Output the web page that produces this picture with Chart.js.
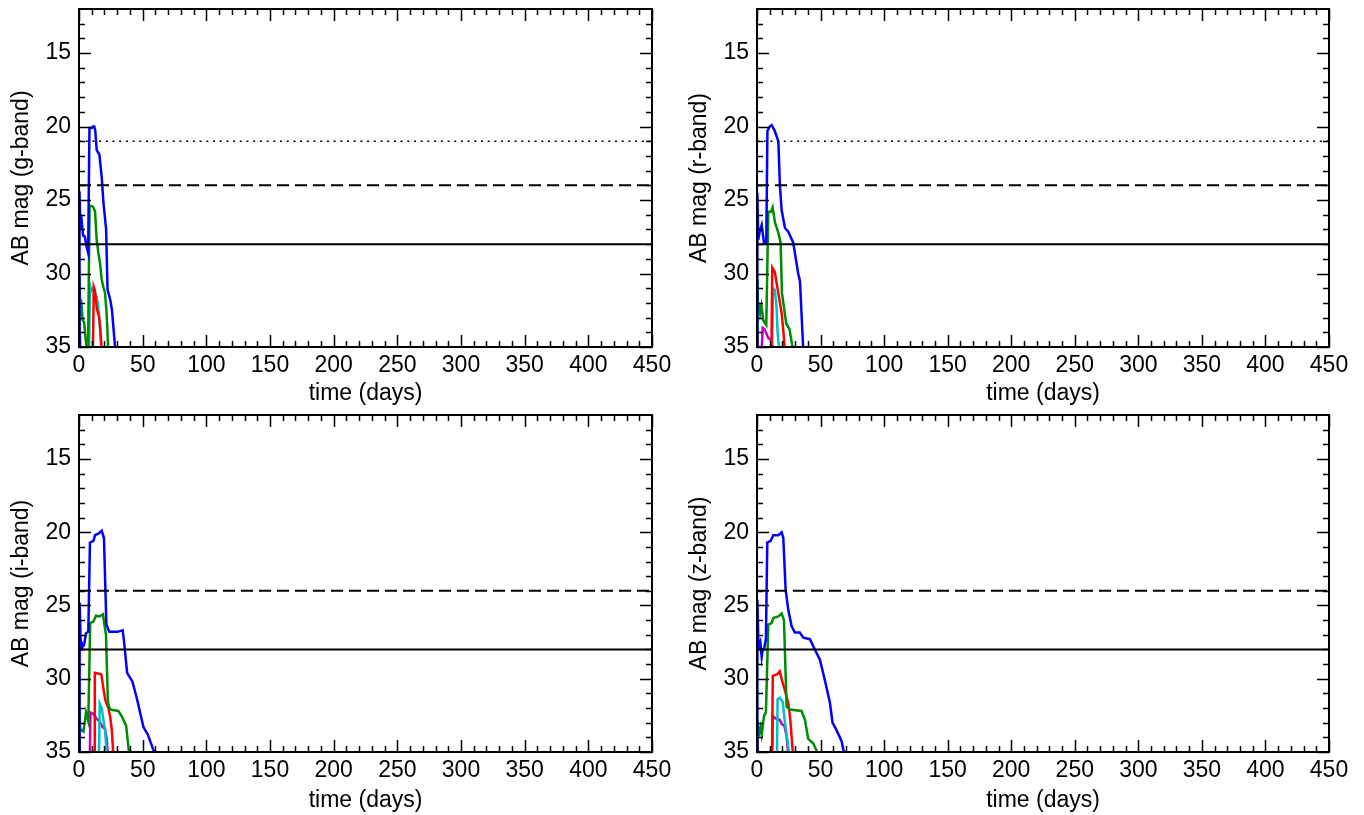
<!DOCTYPE html>
<html>
<head>
<meta charset="utf-8">
<script src="https://cdn.jsdelivr.net/npm/chart.js@4.4.1/dist/chart.umd.min.js"></script>
<style>
  html, body { margin: 0; padding: 0; background: #fff; }
  body { width: 1364px; height: 815px; position: relative; overflow: hidden; }
  canvas { position: absolute; }
</style>
</head>
<body>
<canvas id="gPanel" width="678" height="407" style="left:0;top:0"></canvas>
<canvas id="rPanel" width="686" height="407" style="left:678px;top:0"></canvas>
<canvas id="iPanel" width="678" height="408" style="left:0;top:407px"></canvas>
<canvas id="zPanel" width="686" height="408" style="left:678px;top:407px"></canvas>
<script>
// Axis ticks and survey depth limits (AB mag)
const dayTicks = [0, 50, 100, 150, 200, 250, 300, 350, 400, 450];
const magTicks = [15, 20, 25, 30, 35];
const limitDotted = 21;
const limitDashed = 24;
const limitSolid = 28;

// Light curves, [day, mag]. 36 = fainter than the plot floor.
// g-band
const gBlue = [[0,36],[0.4,24.4],[0.8,26.0],[1.5,27.0],[2.3,26.6],[3.2,27.4],[4.6,27.5],[6,28.2],[7.2,28.6],[8.2,20.1],[10,20.1],[11,20.0],[12,20.0],[12.8,20.3],[13.9,21.6],[16,21.9],[17.8,23.4],[19.2,25.2],[21.3,27.0],[22.4,31.1],[24.6,31.8],[25.9,32.5],[28.5,35.2]];
const gGreen = [[0,36],[0.3,29.8],[0.8,31.8],[1.5,32.9],[2.2,32.4],[3,33.2],[4,33.3],[5.5,34.7],[7,36],[8.3,25.4],[10,25.4],[11.3,25.5],[12.6,25.8],[13.9,27.7],[15.2,28.6],[16.5,29.3],[17.8,30.4],[19.1,30.9],[20.4,31.3],[21.7,32.7],[23,35.3]];
const gRedEarly = [[0,36],[0.4,33.2],[1.2,35.5]];
const gRed = [[10.8,36],[11.6,30.9],[12.4,31.1],[14,32.4],[15.7,32.9],[16.8,33.8],[17.8,35.3]];
const gCyan = [[7.8,36],[8.6,30.8],[9.5,31.2],[11,31.0],[12,31.2],[13.9,31.6],[15.2,32.3],[16.5,33.8],[17.8,35.3]];

// r-band
const rBlue = [[0,36],[0.3,24.5],[1,27.7],[2,27.2],[3.7,26.7],[5.5,27.9],[7.3,27.9],[8.2,20.3],[10,20.0],[11.6,19.9],[14,20.3],[16.8,21.0],[18,24.0],[19.4,25.7],[22,26.9],[24.6,27.15],[28.5,27.9],[32.4,30.0],[33.8,30.5],[36.4,35.2]];
const rGreen = [[0,36],[0.3,30.4],[0.8,32.3],[1.5,32.0],[2.5,32.7],[3.5,32.2],[5,33.2],[7.3,33.5],[8.9,25.8],[11,25.8],[12.3,25.5],[14.1,26.5],[16.7,27.2],[18.6,27.9],[19.6,31.3],[23,33.4],[25.6,33.8],[28.3,35.2]];
const rRedEarly = [[0,36],[0.2,34.0],[0.8,35.5]];
const rRed = [[11.3,36],[12,29.6],[14,29.9],[16.7,31.3],[19.4,32.7],[20.8,34.0],[22,35.3]];
const rCyan = [[11.8,36],[12.5,31.0],[14,31.1],[15.4,32.3],[16.2,34.0],[17.5,35.2]];
const rMagenta = [[3.3,36],[4.5,33.7],[6,33.8],[8.9,34.4],[11,34.5],[12.8,35.2]];

// i-band
const iBlue = [[0,36],[0.5,24.8],[1.5,28.1],[2.2,27.6],[3,27.8],[4,27.7],[5.5,26.9],[7.3,26.8],[8.6,20.7],[11.3,20.6],[12.6,20.2],[15.2,20.1],[17.8,19.9],[19.6,20.4],[21.5,26.3],[23.8,26.8],[30,26.8],[34.3,26.7],[35.3,27.4],[37.8,29.6],[42,30.2],[45.6,31.4],[50.6,33.3],[54,33.8],[59,35.0],[60,35.5]];
const iGreen = [[0,36],[0.3,32.2],[1,33.6],[2,33.5],[3.5,33.6],[5.5,32.3],[7.3,32.9],[8.8,26.2],[11.3,26.1],[13.4,25.7],[16,25.75],[18.8,25.6],[21.2,27.0],[22.7,31.6],[24.3,32.1],[30.9,32.2],[33.5,32.55],[37,33.2],[39,34.8],[39.6,35.5]];
const iRedEarly = [[0,36],[0.3,33.9],[1,35.5]];
const iRed = [[12,36],[12.4,29.6],[17.5,29.7],[19.6,30.9],[20.8,31.5],[23,32.0],[24.5,32.6],[25.8,33.5],[27,35.3]];
const iCyan = [[15.5,36],[16.3,31.7],[17.8,32.0],[20.4,33.5],[22,35.3]];
const iMagenta = [[8.4,36],[9,32.3],[11.3,32.4],[13.6,32.7],[16,32.9],[18.5,33.3],[20.4,33.4],[21.7,34.1],[22.8,35.3]];

// z-band
const zBlue = [[0,36],[0.3,24.6],[1,27.3],[1.8,27.7],[2.6,27.5],[3.7,28.5],[4.5,28.0],[5.5,28.0],[7,27.3],[8.1,20.7],[10.7,20.6],[12.8,20.2],[16.8,20.2],[19.4,20.0],[20.7,20.4],[22.5,23.9],[24.6,25.3],[27.2,26.4],[29.8,26.85],[33.7,26.85],[36.4,27.2],[41.6,27.3],[45.5,28.0],[49.5,28.7],[53.4,30.1],[57.3,31.6],[59.4,33.0],[62.5,33.5],[66.5,34.25],[68.3,35.0],[69,35.5]];
const zGreen = [[0,36],[0.3,32.8],[1,33.5],[1.8,33.7],[2.8,33.3],[3.7,33.8],[5.5,32.55],[7,32.3],[8.9,26.3],[11.5,26.2],[12.8,25.85],[16.8,25.75],[19.4,25.55],[21.2,26.0],[23.3,31.9],[25.9,32.1],[35,32.2],[37.7,32.8],[40.3,34.1],[44.2,34.4],[47.4,35.0],[48,35.5]];
const zRedEarly = [[0,36],[0.3,34.0],[1,35.5]];
const zRed = [[11.8,36],[12.4,29.8],[15.8,29.7],[17.9,29.5],[19.6,30.1],[22.3,30.9],[24.9,31.8],[26.2,32.8],[28.3,35.2]];
const zCyan = [[15.6,36],[16.2,31.4],[18,31.3],[20.2,31.6],[22,33.0],[23.8,34.1],[25.4,35.2]];
const zMagenta = [[11.8,36],[12.4,32.55],[14.5,32.7],[17.8,32.8],[19.6,33.1],[21.5,33.2],[23.3,33.9],[24.6,35.2]];

const COLORS = {
  blue: '#0000ff',
  green: '#008c00',
  red: '#ff0000',
  cyan: '#00c0c0',
  magenta: '#c000c0',
};

const FONT = "'Liberation Sans', Arial, Helvetica, sans-serif";
const FSIZE = 23;

// Frame plus inward major/minor ticks on all four sides (IDL style)
const frameTicks = {
  id: 'frameTicks',
  afterDatasetsDraw(chart) {
    const { ctx, chartArea: { left, right, top, bottom }, scales: { x, y } } = chart;
    ctx.save();
    ctx.strokeStyle = '#000';
    ctx.lineWidth = 1.5;
    ctx.beginPath();
    for (let t = 0; t <= 450; t += 10) {
      const px = Math.round(x.getPixelForValue(t)) + 0.5;
      const len = t % 50 === 0 ? 12 : 6;
      ctx.moveTo(px, bottom); ctx.lineTo(px, bottom - len);
      ctx.moveTo(px, top);    ctx.lineTo(px, top + len);
    }
    for (let m = 13; m <= 35; m++) {
      const py = Math.round(y.getPixelForValue(m)) + 0.5;
      const len = m % 5 === 0 ? 12 : 6;
      ctx.moveTo(left, py);  ctx.lineTo(left + len, py);
      ctx.moveTo(right, py); ctx.lineTo(right - len, py);
    }
    ctx.stroke();
    ctx.lineWidth = 2;
    ctx.strokeRect(left, top, right - left, bottom - top);
    ctx.restore();
  },
};

function curve(points, color) {
  return {
    data: points.map(p => ({ x: p[0], y: p[1] })),
    borderColor: color,
    borderWidth: 2.5,
    pointRadius: 0,
    tension: 0,
    fill: false,
  };
}

function limitLine(mag, dash, width) {
  return {
    data: [{ x: dayTicks[0], y: mag }, { x: dayTicks[dayTicks.length - 1], y: mag }],
    borderColor: '#000',
    borderWidth: width,
    borderDash: dash,
    pointRadius: 0,
    fill: false,
  };
}

function makePanel(id, band, curves, withDotted, box) {
  const lines = [limitLine(limitSolid, [], 2), limitLine(limitDashed, [12, 6], 2)];
  if (withDotted) lines.push(limitLine(limitDotted, [2, 4.7], 1.5));

  new Chart(document.getElementById(id), {
    type: 'line',
    data: { datasets: [...lines, ...curves] },
    plugins: [frameTicks],
    options: {
      responsive: false,
      animation: false,
      events: [],
      layout: { padding: { left: 0, top: box.top, right: box.right, bottom: 0 } },
      plugins: { legend: { display: false }, tooltip: { enabled: false } },
      scales: {
        x: {
          type: 'linear',
          min: dayTicks[0],
          max: dayTicks[dayTicks.length - 1],
          grid: { display: false, drawTicks: false },
          border: { display: false },
          afterBuildTicks(s) { s.ticks = dayTicks.map(v => ({ value: v })); },
          afterFit(s) { s.height = box.xh; s.paddingLeft = 0; s.paddingRight = 0; },
          ticks: { color: '#000', font: { family: FONT, size: FSIZE }, padding: 5, maxRotation: 0, autoSkip: false },
          title: {
            display: true, text: 'time (days)', color: '#000',
            font: { family: FONT, size: FSIZE }, padding: { top: 0, bottom: box.tpad },
          },
        },
        y: {
          type: 'linear',
          reverse: true,
          min: 12,
          max: 35,
          grid: { display: false, drawTicks: false },
          border: { display: false },
          afterBuildTicks(s) { s.ticks = magTicks.map(v => ({ value: v })); },
          afterFit(s) { s.width = 79; s.paddingTop = 0; s.paddingBottom = 0; },
          ticks: { color: '#000', font: { family: FONT, size: FSIZE }, padding: 8, autoSkip: false },
          title: {
            display: true, text: 'AB mag (' + band + '-band)', color: '#000',
            font: { family: FONT, size: FSIZE }, padding: { top: 8, bottom: 0 },
          },
        },
      },
    },
  });
}

const topBox = { top: 9, xh: 60, tpad: 0 };
const botBox = { top: 8, xh: 63, tpad: 1 };

makePanel('gPanel', 'g', [
  curve(gBlue, COLORS.blue), curve(gGreen, COLORS.green),
  curve(gRedEarly, COLORS.red), curve(gRed, COLORS.red), curve(gCyan, COLORS.cyan),
], true, { ...topBox, right: 26 });

makePanel('rPanel', 'r', [
  curve(rBlue, COLORS.blue), curve(rGreen, COLORS.green),
  curve(rRedEarly, COLORS.red), curve(rRed, COLORS.red), curve(rCyan, COLORS.cyan),
  curve(rMagenta, COLORS.magenta),
], true, { ...topBox, right: 35 });

makePanel('iPanel', 'i', [
  curve(iBlue, COLORS.blue), curve(iGreen, COLORS.green),
  curve(iRedEarly, COLORS.red), curve(iRed, COLORS.red), curve(iCyan, COLORS.cyan),
  curve(iMagenta, COLORS.magenta),
], false, { ...botBox, right: 26 });

makePanel('zPanel', 'z', [
  curve(zBlue, COLORS.blue), curve(zGreen, COLORS.green),
  curve(zRedEarly, COLORS.red), curve(zRed, COLORS.red), curve(zCyan, COLORS.cyan),
  curve(zMagenta, COLORS.magenta),
], false, { ...botBox, right: 35 });
</script>
</body>
</html>
